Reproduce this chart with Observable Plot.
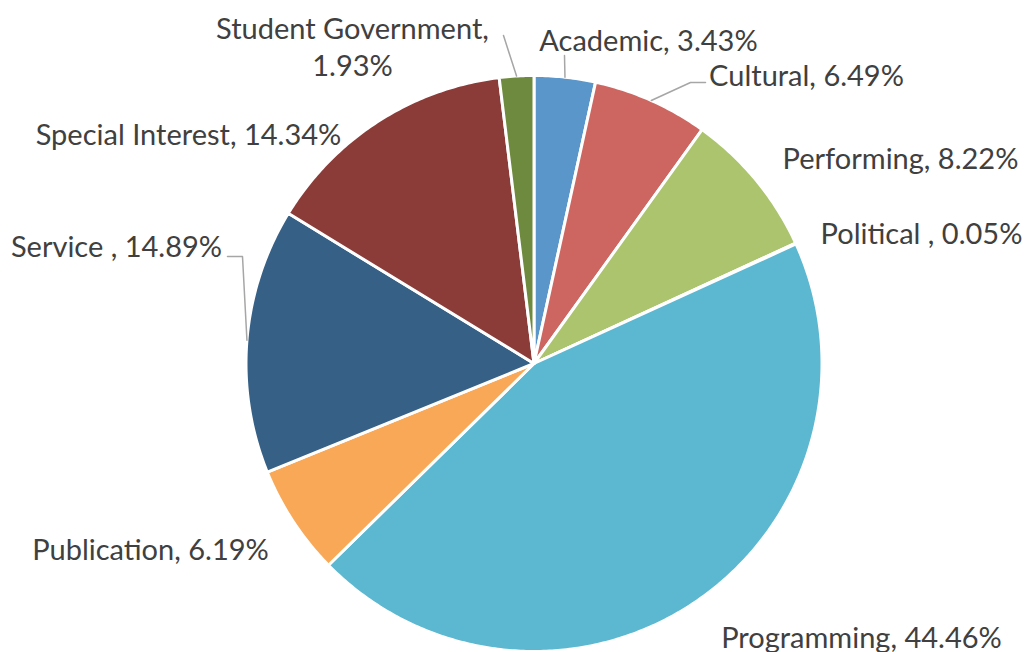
<!DOCTYPE html>
<html><head><meta charset="utf-8">
<script src="https://cdn.jsdelivr.net/npm/d3@7"></script>
<script src="https://cdn.jsdelivr.net/npm/@observablehq/plot@0.6"></script>
<style>html,body{margin:0;padding:0;background:#fff;overflow:hidden}</style>
</head><body><div id="chart"></div>
<script>
// ---- data ----
const categories = ["Academic", "Cultural", "Performing", "Political ", "Programming", "Publication", "Service ", "Special Interest", "Student Government"];
const shares = [3.43, 6.49, 8.22, 0.05, 44.46, 6.19, 14.89, 14.34, 1.93];
const colors = ["#5B96CB", "#CD6660", "#ABC46D", "#8064A2", "#5BB8D0", "#F8A857", "#366086", "#8B3B38", "#6E8A3E"];

// ---- layout ----
const W = 1032, H = 652, CX = 533.5, CY = 363, R = 288;
// label centres in pixels (layout only)
const labelCenters = {
  "Academic": [648, 39], "Cultural": [806, 74], "Performing": [900, 157],
  "Political ": [921, 232], "Programming": [861, 636], "Publication": [150, 548],
  "Service ": [116, 245], "Special Interest": [188, 133], "Student Government": [352, 45]
};
const leaderStarts = {
  "Student Government": [[503, 35]], "Academic": [[564, 55]],
  "Cultural": [[705, 82], [690, 82]], "Service ": [[227, 256], [242, 256]]
};
const px = (x) => (x - CX) / R, py = (y) => (CY - y) / R;

const arcs = d3.pie().sort(null).value(d => d)(shares);
const slices = [];
arcs.forEach((a, i) => {
  const name = categories[i], color = colors[i];
  slices.push({name, color, x: 0, y: 0});
  const n = Math.max(2, Math.ceil((a.endAngle - a.startAngle) / 0.01));
  for (let k = 0; k <= n; k++) {
    const t = a.startAngle + (a.endAngle - a.startAngle) * k / n;
    slices.push({name, color, x: Math.sin(t), y: Math.cos(t)});
  }
  slices.push({name, color, x: 0, y: 0});
});

const labels = arcs.map((a, i) => {
  const name = categories[i];
  const sep = name === "Student Government" ? ",\n" : ", ";
  const [lx, ly] = labelCenters[name];
  return {text: name + sep + shares[i].toFixed(2) + "%", x: px(lx), y: py(ly)};
});

const leaders = [];
arcs.forEach((a, i) => {
  const name = categories[i];
  if (!leaderStarts[name]) return;
  leaderStarts[name].forEach(([lx, ly]) => leaders.push({name, x: px(lx), y: py(ly)}));
  const m = (a.startAngle + a.endAngle) / 2;
  leaders.push({name, x: Math.sin(m), y: Math.cos(m)});
});

const chart = Plot.plot({
  width: W, height: H,
  margin: 0,
  x: {domain: [px(0), px(W)], range: [0, W], axis: null},
  y: {domain: [py(0), py(H)], range: [0, H], axis: null},
  color: {type: "identity"},
  style: {fontFamily: "Lato, sans-serif", background: "#fff"},
  marks: [
    Plot.line(slices, {x: "x", y: "y", z: "name", fill: "color", stroke: "#fff", strokeWidth: 3, strokeLinejoin: "round", curve: "linear"}),
    Plot.line(leaders, {x: "x", y: "y", z: "name", stroke: "#A6A6A6", strokeWidth: 1.5}),
    Plot.text(labels, {x: "x", y: "y", text: "text", fill: "#404040", fontSize: 29, lineHeight: 1.28, textAnchor: "middle", lineAnchor: "middle"})
  ]
});
document.getElementById("chart").appendChild(chart);
</script>
</body></html>
